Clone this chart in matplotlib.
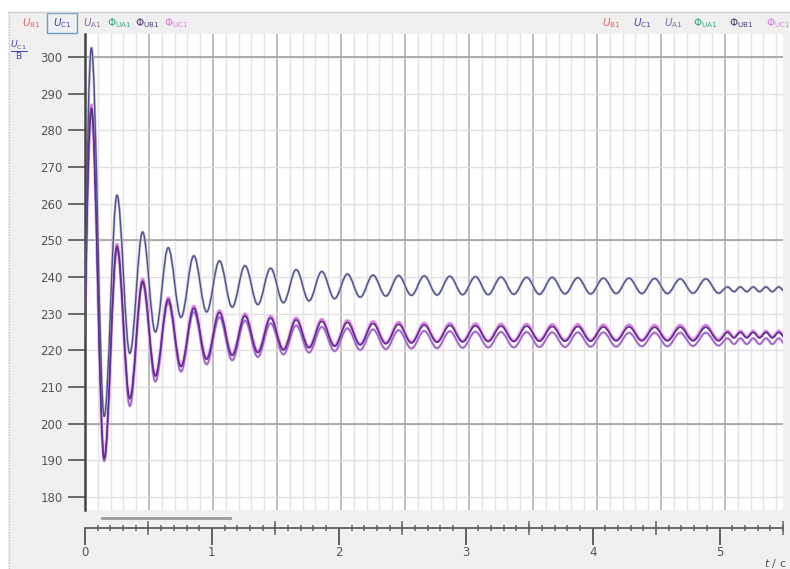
import numpy as np
import matplotlib
matplotlib.use("Agg")
import matplotlib.pyplot as plt
from matplotlib.path import Path
from matplotlib.patches import PathPatch, Rectangle
from matplotlib.lines import Line2D

# ---------------- data ----------------
period = 0.2                      # s, main oscillation
t_start = 0.0
v_start = 224.0
t_peaks = [round(0.05 + period * k, 3) for k in range(25)]
t_troughs = [round(0.15 + period * k, 3) for k in range(25)]
t_tail = [5.02, 5.07, 5.12, 5.17, 5.22, 5.27, 5.32, 5.37, 5.42, 5.47]

# upper curve (blue-grey)
upper_peaks = [302.5, 262.3, 252.3, 248.0, 245.8, 244.4, 243.1, 242.4, 242.0, 241.5,
               240.8, 240.5, 240.4, 240.3, 240.2, 240.1, 240.0, 239.9, 239.9, 239.8,
               239.7, 239.7, 239.6, 239.5, 239.5]
upper_troughs = [202.0, 219.2, 225.0, 229.0, 230.5, 231.8, 232.5, 233.0, 233.5, 234.1,
                 234.5, 234.8, 235.0, 235.1, 235.2, 235.2, 235.3, 235.3, 235.4, 235.4,
                 235.5, 235.5, 235.5, 235.6, 235.6]
upper_tail = [237.3, 236.0, 237.3, 236.0, 237.3, 236.0, 237.3, 236.0, 237.3, 236.0]

# lower group: dark purple
dark_peaks = [286.0, 248.3, 238.8, 233.8, 231.5, 230.3, 229.4, 228.8, 228.3, 227.9,
              227.6, 227.3, 227.1, 226.9, 226.8, 226.7, 226.6, 226.6, 226.5, 226.5,
              226.4, 226.4, 226.3, 226.3, 226.3]
dark_troughs = [190.5, 206.8, 213.0, 215.6, 217.6, 218.6, 219.4, 220.1, 220.7, 221.1,
                221.5, 221.8, 222.0, 222.2, 222.3, 222.4, 222.4, 222.5, 222.5, 222.5,
                222.6, 222.6, 222.6, 222.6, 222.6]
dark_tail = [224.9, 223.4, 224.9, 223.4, 224.9, 223.4, 224.9, 223.4, 224.9, 223.4]

# lower group: pink
pink_peaks = [287.0, 249.0, 239.5, 234.4, 232.1, 230.9, 230.0, 229.4, 228.9, 228.5,
              228.2, 227.9, 227.7, 227.5, 227.4, 227.3, 227.2, 227.2, 227.1, 227.1,
              227.0, 227.0, 226.9, 226.9, 226.9]
pink_troughs = [191.0, 207.2, 213.3, 216.0, 218.0, 219.0, 219.8, 220.5, 221.0, 221.4,
                221.8, 222.1, 222.3, 222.5, 222.6, 222.7, 222.7, 222.8, 222.8, 222.8,
                222.9, 222.9, 222.9, 223.0, 223.0]
pink_tail = [225.3, 223.7, 225.3, 223.7, 225.3, 223.7, 225.3, 223.7, 225.3, 223.7]

# lower group: violet
violet_peaks = [284.5, 247.5, 238.2, 233.0, 230.5, 229.1, 228.1, 227.4, 226.8, 226.4,
                226.0, 225.7, 225.5, 225.3, 225.2, 225.1, 225.0, 225.0, 224.9, 224.9,
                224.9, 224.8, 224.8, 224.8, 224.8]
violet_troughs = [189.8, 204.8, 211.5, 214.2, 216.2, 217.3, 218.2, 218.9, 219.4, 219.8,
                  220.1, 220.3, 220.5, 220.6, 220.7, 220.8, 220.8, 220.9, 220.9, 221.0,
                  221.0, 221.1, 221.1, 221.2, 221.3]
violet_tail = [223.3, 221.7, 223.3, 221.7, 223.3, 221.7, 223.3, 221.7, 223.3, 221.7]

y_ticks = [180, 190, 200, 210, 220, 230, 240, 250, 260, 270, 280, 290, 300]
x_ticks = [0, 1, 2, 3, 4, 5]
legend_items = [r"$U_{\mathrm{B1}}$", r"$U_{\mathrm{C1}}$", r"$U_{\mathrm{A1}}$",
                r"$\mathrm{\Phi}_{\mathrm{UA1}}$", r"$\mathrm{\Phi}_{\mathrm{UB1}}$",
                r"$\mathrm{\Phi}_{\mathrm{UC1}}$"]
legend_colors = ["#e06a6a", "#4646b0", "#8a6aa6", "#3aa68a", "#4e3a78", "#e27ae2"]

# ---------------- figure ----------------
W, H = 790, 569
fig = plt.figure(figsize=(W / 100, H / 100), dpi=100)
fig.patch.set_facecolor("white")

def fx(x):
    return x / W

def fy(y):
    return 1 - y / H

# grey panel
fig.add_artist(Rectangle((fx(8), 0), 1, fy(12), transform=fig.transFigure,
                         facecolor="#f0f0f0", edgecolor="none", zorder=0))
fig.add_artist(Line2D([fx(8), 1], [fy(12), fy(12)], transform=fig.transFigure,
                      color="#cfcfcf", lw=1))
fig.add_artist(Line2D([fx(9), fx(9)], [0, fy(12)], transform=fig.transFigure,
                      color="#c8c8c8", lw=1, ls=(0, (1, 1))))

x0, x1 = 85, 783
ytop, ybot = 34, 510
ax = fig.add_axes([fx(x0), fy(ybot), (x1 - x0) / W, (ybot - ytop) / H])
ax.set_facecolor("white")
xmax = (x1 - x0) / 128.0
ymin = 300 - (ybot - 57) / 3.667
ymax = 300 + (57 - ytop) / 3.667
ax.set_xlim(0, xmax)
ax.set_ylim(ymin, ymax)

# grid
ax.set_xticks(np.arange(0, 5.51, 0.5))
ax.set_xticks(np.arange(0, 5.51, 0.1), minor=True)
ax.set_yticks(y_ticks)
ax.grid(which="minor", axis="x", color="#e4e4e4", lw=1.0)
ax.grid(which="major", axis="x", color="#b8b8b8", lw=1.3)
ax.grid(which="major", axis="y", color="#e0e0e0", lw=1.0)
for yv in (200, 250, 300):
    ax.axhline(yv, color="#a0a0a0", lw=1.2, zorder=0.6)
ax.set_axisbelow(True)
ax.tick_params(axis="x", which="both", length=0, labelbottom=False)
ax.tick_params(axis="y", which="major", length=12, width=1.2, color="#555555",
               labelsize=8.5, labelcolor="#555555", pad=4)
for s in ("top", "right", "bottom"):
    ax.spines[s].set_visible(False)
ax.spines["left"].set_color("#444444")
ax.spines["left"].set_linewidth(1.8)


def build_path(t_pk, v_pk, t_tr, v_tr, t_tl, v_tl, c=0.36):
    times = [t_start]
    vals = [v_start]
    for a, b, p, q in zip(t_pk, v_pk, t_tr, v_tr):
        times += [a, p]
        vals += [b, q]
    times += list(t_tl)
    vals += list(v_tl)
    verts = [(times[0], vals[0])]
    codes = [Path.MOVETO]
    for i in range(len(times) - 1):
        ta, va, tb, vb = times[i], vals[i], times[i + 1], vals[i + 1]
        d = tb - ta
        if i == 0:
            c1 = (ta + d * 0.3, va + (vb - va) * 0.6)
        else:
            c1 = (ta + d * c, va)
        c2 = (tb - d * c, vb)
        verts += [c1, c2, (tb, vb)]
        codes += [Path.CURVE4] * 3
    return Path(verts, codes)


def draw(path, color, lw, z, alpha=1.0):
    ax.add_patch(PathPatch(path, fill=False, edgecolor=color, lw=lw, zorder=z,
                           alpha=alpha, capstyle="round", joinstyle="round"))


p_up = build_path(t_peaks, upper_peaks, t_troughs, upper_troughs, t_tail, upper_tail)
p_dk = build_path(t_peaks, dark_peaks, t_troughs, dark_troughs, t_tail, dark_tail)
p_pk = build_path(t_peaks, pink_peaks, t_troughs, pink_troughs, t_tail, pink_tail)
p_vi = build_path(t_peaks, violet_peaks, t_troughs, violet_troughs, t_tail, violet_tail)

draw(p_pk, "#eec0f0", 2.4, 2)
draw(p_vi, "#d4b4e6", 2.0, 2)
draw(p_up, "#c8c8dc", 2.0, 2)
draw(p_pk, "#d070d6", 1.0, 3)
draw(p_vi, "#9a5ec8", 1.0, 3)
draw(p_dk, "#5e2e8e", 1.2, 4)
draw(p_up, "#50508a", 1.0, 4)

ax.set_xlim(0, xmax)
ax.set_ylim(ymin, ymax)

# y label fraction
fig.text(fx(19), fy(51), r"$\frac{U_{\mathrm{C1}}}{\mathrm{B}}$", color="#4646b0",
         fontsize=9.5, ha="center", va="center")

# separate x axis
yaxis_px = 528
ax2 = fig.add_axes([fx(x0), fy(yaxis_px), (x1 - x0) / W, 0.0001])
ax2.set_xlim(0, xmax)
ax2.patch.set_visible(False)
for s in ("top", "right", "left"):
    ax2.spines[s].set_visible(False)
ax2.spines["bottom"].set_color("#555555")
ax2.spines["bottom"].set_linewidth(1.2)
ax2.set_yticks([])
ax2.set_xticks(x_ticks)
ax2.set_xticklabels([str(v) for v in x_ticks])
ax2.set_xticks(np.arange(0, 5.51, 0.1), minor=True)
ax2.tick_params(axis="x", which="major", direction="out", length=12, width=1.3,
                color="#555555", labelsize=8.5, labelcolor="#555555", pad=1)
ax2.tick_params(axis="x", which="minor", direction="inout", length=5, width=1.1,
                color="#666666")
ax3 = fig.add_axes([fx(x0), fy(yaxis_px), (x1 - x0) / W, 0.0001])
ax3.set_xlim(0, xmax)
ax3.patch.set_visible(False)
for s in ax3.spines.values():
    s.set_visible(False)
ax3.set_yticks([])
ax3.set_xticks(np.arange(0.5, 5.51, 1.0))
ax3.tick_params(axis="x", which="major", direction="inout", length=10, width=1.1,
                color="#666666", labelbottom=False)

fig.text(fx(775), fy(563), r"$t$ / c", color="#555555", fontsize=8, ha="center",
         va="center")

# scrollbar
fig.add_artist(Line2D([fx(102), fx(230)], [fy(518), fy(518)], transform=fig.transFigure,
                      color="#9a9a9a", lw=2))

# legends in toolbar
left_x = [31, 62, 92, 119, 147, 176]
right_x = [611, 642, 673, 705, 741, 778]
for xs in (left_x, right_x):
    for xc, lab, col in zip(xs, legend_items, legend_colors):
        fig.text(fx(xc), fy(23), lab, color=col, fontsize=7.5, ha="center", va="center")
fig.add_artist(Rectangle((fx(47), fy(33)), (77 - 47) / W, (33 - 13) / H,
                         transform=fig.transFigure, facecolor="none",
                         edgecolor="#6a9ec8", lw=1))

fig.savefig("out.png", dpi=100, facecolor=fig.get_facecolor())
